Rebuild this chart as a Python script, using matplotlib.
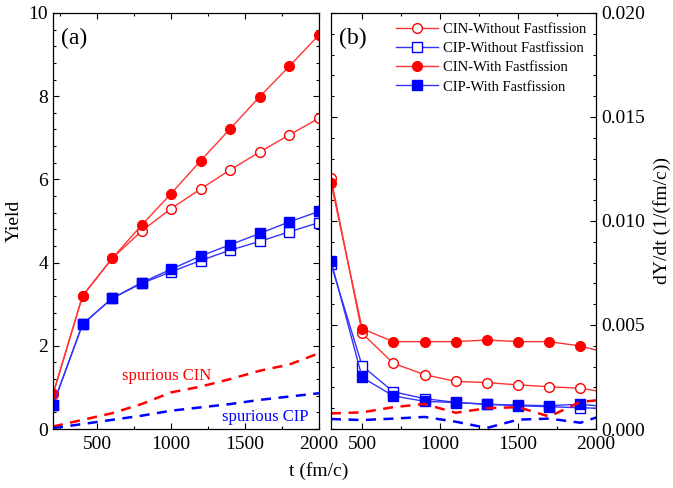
import matplotlib
matplotlib.use('Agg')
import matplotlib.pyplot as plt
from matplotlib.ticker import MultipleLocator
import numpy as np

plt.rcParams['font.family'] = ['Liberation Serif', 'DejaVu Serif']
plt.rcParams['mathtext.fontset'] = 'stix'

# (a) yield vs time
t_a = [200, 400, 600, 800, 1000, 1200, 1400, 1600, 1800, 2000]
cin_without = [0.84, 3.20, 4.10, 4.76, 5.30, 5.77, 6.23, 6.66, 7.07, 7.47]
cip_without = [0.58, 2.52, 3.14, 3.50, 3.78, 4.05, 4.30, 4.51, 4.74, 4.96]
cin_with = [0.84, 3.20, 4.10, 4.90, 5.66, 6.45, 7.22, 7.99, 8.72, 9.47]
cip_with = [0.58, 2.52, 3.14, 3.52, 3.84, 4.16, 4.43, 4.70, 4.98, 5.23]
spur_cin = [0.06, 0.22, 0.38, 0.60, 0.88, 1.02, 1.20, 1.40, 1.55, 1.82]
spur_cip = [0.02, 0.12, 0.22, 0.32, 0.44, 0.52, 0.60, 0.70, 0.78, 0.86]

# (b) dY/dt vs time
t_b = [300, 500, 700, 900, 1100, 1300, 1500, 1700, 1900, 2100]
dcin_without = [0.01208, 0.00460, 0.00316, 0.00261, 0.00229, 0.00223, 0.00212, 0.00203, 0.00196, 0.00172]
dcip_without = [0.00793, 0.00303, 0.00179, 0.00146, 0.00128, 0.00119, 0.00112, 0.00107, 0.00102, 0.00098]
dcin_with = [0.01184, 0.00482, 0.00420, 0.00420, 0.00420, 0.00428, 0.00420, 0.00420, 0.00399, 0.00360]
dcip_with = [0.00809, 0.00248, 0.00159, 0.00133, 0.00127, 0.00119, 0.00115, 0.00112, 0.00119, 0.00105]
dspur_cin = [0.00075, 0.00080, 0.00105, 0.00120, 0.00078, 0.00100, 0.00105, 0.00060, 0.00130, 0.00145]
dspur_cip = [0.00048, 0.00043, 0.00050, 0.00058, 0.00035, 0.00005, 0.00045, 0.00050, 0.00030, 0.00080]

red = '#FF0000'
blue = '#0000FF'
lred = '#FF3333'
lblue = '#3333FF'
ms = 7

fig = plt.figure(figsize=(6.73, 4.88), dpi=100)
ax1 = fig.add_axes([0.0788, 0.1209, 0.395, 0.8525])
ax2 = fig.add_axes([0.4918, 0.1209, 0.3938, 0.8525])

def style(ax):
    ax.tick_params(which='both', direction='in', top=True, right=True, labelsize=14)
    ax.tick_params(axis='x', pad=5)
    ax.tick_params(which='major', length=4, width=0.8)
    ax.tick_params(which='minor', length=2.5, width=0.8)
    for s in ax.spines.values():
        s.set_linewidth(0.9)

# panel (a)
ax1.plot(t_a, cin_without, '-o', color=lred, lw=1, ms=ms, mfc='white', mec=red, mew=1)
ax1.plot(t_a, cip_without, '-s', color=lblue, lw=1, ms=ms - 0.5, mfc='white', mec=blue, mew=1)
ax1.plot(t_a, cin_with, '-o', color=lred, lw=1, ms=ms, mfc=red, mec=red)
ax1.plot(t_a, cip_with, '-s', color=lblue, lw=1, ms=ms - 0.5, mfc=blue, mec=blue)
ax1.plot(t_a, spur_cin, '--', color=red, lw=1.8, dashes=(4, 3))
ax1.plot(t_a, spur_cip, '--', color=blue, lw=1.8, dashes=(4, 3))
ax1.set_xlim(200, 2000)
ax1.set_ylim(0, 10)
ax1.xaxis.set_major_locator(MultipleLocator(500))
ax1.xaxis.set_minor_locator(MultipleLocator(250))
ax1.yaxis.set_major_locator(MultipleLocator(2))
ax1.yaxis.set_minor_locator(MultipleLocator(0.4))
style(ax1)
ax1.set_ylabel('Yield', fontsize=14, labelpad=4)
ax1.text(0.03, 0.965, '(a)', transform=ax1.transAxes, fontsize=17, va='top', ha='left')
ax1.text(966, 1.27, 'spurious CIN', color=red, fontsize=12, ha='center', va='center')
ax1.text(1635, 0.30, 'spurious CIP', color=blue, fontsize=12, ha='center', va='center')

# panel (b)
ax2.plot(t_b, dcin_without, '-o', color=lred, lw=1, ms=ms, mfc='white', mec=red, mew=1,
         label='CIN-Without Fastfission')
ax2.plot(t_b, dcip_without, '-s', color=lblue, lw=1, ms=ms - 0.5, mfc='white', mec=blue, mew=1,
         label='CIP-Without Fastfission')
ax2.plot(t_b, dcin_with, '-o', color=lred, lw=1, ms=ms, mfc=red, mec=red,
         label='CIN-With Fastfission')
ax2.plot(t_b, dcip_with, '-s', color=lblue, lw=1, ms=ms - 0.5, mfc=blue, mec=blue,
         label='CIP-With Fastfission')
ax2.plot(t_b, dspur_cin, '--', color=red, lw=1.8, dashes=(4, 3))
ax2.plot(t_b, dspur_cip, '--', color=blue, lw=1.8, dashes=(4, 3))
ax2.set_xlim(300, 2000)
ax2.set_ylim(0, 0.02)
ax2.xaxis.set_major_locator(MultipleLocator(500))
ax2.xaxis.set_minor_locator(MultipleLocator(250))
ax2.yaxis.set_major_locator(MultipleLocator(0.005))
ax2.yaxis.set_minor_locator(MultipleLocator(0.001))
style(ax2)
ax2.tick_params(labelleft=False, labelright=True)
ax2.yaxis.set_label_position('right')
ax2.set_ylabel('dY/dt (1/(fm/c))', fontsize=14, labelpad=6)
ax2.set_xticks([500, 1000, 1500, 2000])
ax2.text(0.03, 0.965, '(b)', transform=ax2.transAxes, fontsize=17, va='top', ha='left')
ax2.legend(loc='upper right', frameon=False, fontsize=10.5, handlelength=2.9,
           handletextpad=0.3, labelspacing=0.4, borderaxespad=0.3,
           bbox_to_anchor=(1.0, 1.0))

fig.text(0.473, 0.025, 't (fm/c)', fontsize=14, ha='center')

fig.savefig('out.png', dpi=100)
